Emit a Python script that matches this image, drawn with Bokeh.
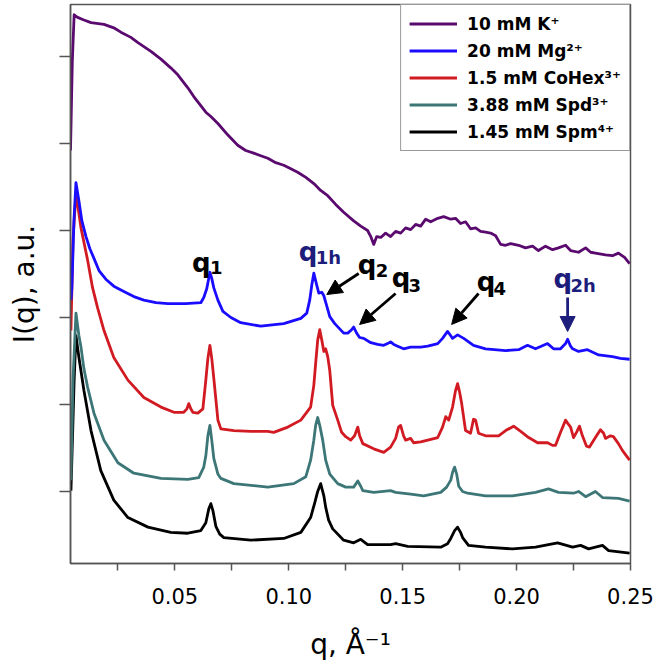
from bokeh.plotting import figure
from bokeh.models import (FixedTicker, CustomJSTickFormatter, PrintfTickFormatter, Legend,
                          LegendItem, Arrow, NormalHead, ColumnDataSource, Range1d)
from bokeh.core.properties import value
from bokeh.embed import file_html
from bokeh.resources import INLINE

# ---------------- data (q in 1/Angstrom, intensity in arbitrary offset units) ----------------
q_k = [0.0042, 0.0050, 0.0058, 0.0073, 0.0101, 0.0132, 0.0189, 0.0232, 0.0263, 0.0307, 0.0338,
       0.0395, 0.0439, 0.0482, 0.0513, 0.0557, 0.0583, 0.0636, 0.0658, 0.0689, 0.0732, 0.0776,
       0.0811, 0.0846, 0.0877, 0.0908, 0.0943, 0.0978, 0.1009, 0.1039, 0.1075, 0.1110, 0.1140,
       0.1171, 0.1206, 0.1241, 0.1285, 0.1316, 0.1346, 0.1360, 0.1373, 0.1386, 0.1404, 0.1425,
       0.1447, 0.1469, 0.1491, 0.1513, 0.1535, 0.1557, 0.1579, 0.1601, 0.1623, 0.1654, 0.1680,
       0.1711, 0.1732, 0.1754, 0.1776, 0.1798, 0.1820, 0.1842, 0.1864, 0.1886, 0.1908, 0.1930,
       0.1952, 0.1974, 0.2009, 0.2039, 0.2070, 0.2096, 0.2127, 0.2158, 0.2184, 0.2215, 0.2237,
       0.2272, 0.2303, 0.2325, 0.2346, 0.2390, 0.2421, 0.2447, 0.2474, 0.2496]
i_k = [4.92, 5.95, 6.48, 6.45, 6.42, 6.39, 6.37, 6.33, 6.28, 6.22, 6.16,
       6.06, 5.97, 5.87, 5.79, 5.64, 5.54, 5.36, 5.31, 5.23, 5.10, 4.98,
       4.92, 4.89, 4.86, 4.83, 4.78, 4.75, 4.71, 4.67, 4.61, 4.54, 4.46,
       4.40, 4.30, 4.21, 4.11, 4.05, 4.00, 3.93, 3.84, 3.93, 3.92, 3.97,
       3.93, 3.99, 3.97, 4.03, 4.01, 4.07, 4.05, 4.13, 4.10, 4.14, 4.16,
       4.13, 4.14, 4.08, 4.10, 4.02, 4.03, 3.99, 3.98, 3.97, 3.94, 3.84,
       3.83, 3.85, 3.83, 3.80, 3.82, 3.77, 3.82, 3.78, 3.80, 3.83, 3.77,
       3.75, 3.80, 3.75, 3.74, 3.72, 3.71, 3.74, 3.69, 3.62]

q_mg = [0.0044, 0.0048, 0.0057, 0.0066, 0.0079, 0.0092, 0.0110, 0.0127, 0.0145, 0.0167, 0.0197,
        0.0232, 0.0276, 0.0320, 0.0364, 0.0417, 0.0469, 0.0548, 0.0614, 0.0627, 0.0640, 0.0654,
        0.0662, 0.0671, 0.0689, 0.0711, 0.0746, 0.0789, 0.0877, 0.0978, 0.1053, 0.1079, 0.1092,
        0.1101, 0.1110, 0.1123, 0.1132, 0.1145, 0.1154, 0.1167, 0.1180, 0.1202, 0.1241, 0.1259,
        0.1276, 0.1285, 0.1298, 0.1311, 0.1329, 0.1360, 0.1390, 0.1417, 0.1434, 0.1447, 0.1461,
        0.1478, 0.1504, 0.1535, 0.1579, 0.1610, 0.1654, 0.1675, 0.1697, 0.1711, 0.1719, 0.1741,
        0.1768, 0.1811, 0.1864, 0.1952, 0.2009, 0.2048, 0.2083, 0.2136, 0.2162, 0.2193, 0.2215,
        0.2224, 0.2237, 0.2246, 0.2272, 0.2311, 0.2360, 0.2421, 0.2456, 0.2496]
i_mg = [3.20, 3.34, 4.11, 4.55, 4.34, 4.11, 3.93, 3.79, 3.68, 3.54, 3.44,
        3.36, 3.30, 3.24, 3.20, 3.17, 3.16, 3.16, 3.17, 3.23, 3.33, 3.52,
        3.45, 3.34, 3.20, 3.07, 3.00, 2.94, 2.90, 2.93, 2.99, 3.05, 3.20,
        3.37, 3.51, 3.37, 3.28, 3.29, 3.25, 3.13, 3.01, 2.93, 2.82, 2.82,
        2.86, 2.89, 2.82, 2.77, 2.76, 2.71, 2.69, 2.68, 2.70, 2.72, 2.69,
        2.67, 2.64, 2.66, 2.66, 2.67, 2.70, 2.76, 2.84, 2.79, 2.76, 2.80,
        2.76, 2.68, 2.64, 2.62, 2.63, 2.68, 2.64, 2.70, 2.64, 2.64, 2.70,
        2.75, 2.67, 2.64, 2.61, 2.63, 2.57, 2.55, 2.53, 2.52]

q_co = [0.0044, 0.0053, 0.0066, 0.0088, 0.0117, 0.0139, 0.0161, 0.0189, 0.0232, 0.0294, 0.0364,
        0.0439, 0.0496, 0.0539, 0.0553, 0.0561, 0.0570, 0.0579, 0.0601, 0.0623, 0.0636, 0.0645,
        0.0654, 0.0662, 0.0671, 0.0689, 0.0702, 0.0759, 0.0833, 0.0908, 0.0934, 0.0996, 0.1053,
        0.1096, 0.1110, 0.1118, 0.1127, 0.1136, 0.1145, 0.1154, 0.1162, 0.1171, 0.1180, 0.1193,
        0.1215, 0.1232, 0.1250, 0.1272, 0.1289, 0.1303, 0.1311, 0.1325, 0.1373, 0.1417, 0.1447,
        0.1469, 0.1482, 0.1491, 0.1504, 0.1513, 0.1535, 0.1548, 0.1579, 0.1610, 0.1654, 0.1675,
        0.1689, 0.1702, 0.1719, 0.1732, 0.1741, 0.1750, 0.1759, 0.1776, 0.1798, 0.1811, 0.1820,
        0.1833, 0.1864, 0.1921, 0.1952, 0.1987, 0.2018, 0.2053, 0.2092, 0.2136, 0.2158, 0.2171,
        0.2193, 0.2215, 0.2228, 0.2237, 0.2250, 0.2263, 0.2276, 0.2289, 0.2307, 0.2320, 0.2346,
        0.2368, 0.2382, 0.2390, 0.2412, 0.2425, 0.2447, 0.2465, 0.2496]
i_co = [2.85, 3.89, 4.43, 4.03, 3.66, 3.34, 3.11, 2.85, 2.54, 2.28, 2.08,
        1.97, 1.91, 1.91, 1.95, 2.01, 1.95, 1.91, 1.90, 1.95, 2.28, 2.53,
        2.68, 2.53, 2.30, 1.82, 1.72, 1.70, 1.69, 1.69, 1.68, 1.74, 1.82,
        1.97, 2.22, 2.47, 2.74, 2.86, 2.74, 2.61, 2.64, 2.55, 2.39, 1.99,
        1.82, 1.68, 1.63, 1.59, 1.64, 1.74, 1.64, 1.55, 1.49, 1.45, 1.51,
        1.61, 1.74, 1.76, 1.64, 1.59, 1.61, 1.56, 1.57, 1.59, 1.62, 1.74,
        1.86, 1.82, 1.97, 2.16, 2.24, 2.14, 2.01, 1.70, 1.67, 1.83, 1.82,
        1.67, 1.64, 1.64, 1.70, 1.75, 1.69, 1.62, 1.56, 1.56, 1.53, 1.53,
        1.68, 1.82, 1.77, 1.74, 1.62, 1.68, 1.75, 1.64, 1.52, 1.51, 1.62,
        1.71, 1.67, 1.61, 1.64, 1.63, 1.55, 1.47, 1.36]

q_spd = [0.0044, 0.0053, 0.0066, 0.0079, 0.0088, 0.0101, 0.0117, 0.0145, 0.0189, 0.0250, 0.0320,
         0.0439, 0.0557, 0.0605, 0.0627, 0.0636, 0.0645, 0.0654, 0.0662, 0.0671, 0.0689, 0.0702,
         0.0759, 0.0908, 0.1022, 0.1075, 0.1096, 0.1110, 0.1118, 0.1127, 0.1136, 0.1149, 0.1162,
         0.1180, 0.1215, 0.1250, 0.1285, 0.1303, 0.1316, 0.1325, 0.1373, 0.1447, 0.1469, 0.1535,
         0.1592, 0.1667, 0.1693, 0.1711, 0.1719, 0.1728, 0.1737, 0.1746, 0.1763, 0.1785, 0.1864,
         0.1982, 0.2083, 0.2140, 0.2184, 0.2250, 0.2272, 0.2303, 0.2346, 0.2377, 0.2447, 0.2496]
i_spd = [1.13, 2.28, 3.05, 2.79, 2.66, 2.41, 2.20, 1.90, 1.59, 1.33, 1.21,
         1.15, 1.14, 1.16, 1.28, 1.41, 1.64, 1.76, 1.59, 1.38, 1.20, 1.15,
         1.09, 1.05, 1.09, 1.17, 1.36, 1.59, 1.76, 1.85, 1.76, 1.59, 1.36,
         1.20, 1.09, 1.05, 1.05, 1.12, 1.06, 1.01, 0.99, 1.01, 0.99, 0.97,
         0.95, 0.99, 1.05, 1.13, 1.22, 1.28, 1.20, 1.06, 1.00, 0.98, 0.95,
         0.95, 0.99, 1.03, 0.99, 0.98, 1.00, 0.94, 1.00, 0.93, 0.92, 0.89]

q_spm = [0.0044, 0.0053, 0.0058, 0.0066, 0.0079, 0.0101, 0.0132, 0.0175, 0.0232, 0.0294, 0.0382,
         0.0482, 0.0557, 0.0614, 0.0636, 0.0649, 0.0658, 0.0667, 0.0680, 0.0697, 0.0715, 0.0833,
         0.0978, 0.1053, 0.1096, 0.1114, 0.1127, 0.1140, 0.1154, 0.1162, 0.1175, 0.1193, 0.1241,
         0.1285, 0.1316, 0.1346, 0.1447, 0.1469, 0.1522, 0.1667, 0.1697, 0.1711, 0.1728, 0.1741,
         0.1754, 0.1763, 0.1789, 0.1864, 0.1982, 0.2083, 0.2140, 0.2180, 0.2246, 0.2281, 0.2316,
         0.2377, 0.2404, 0.2496]
i_spm = [1.01, 1.82, 2.28, 2.79, 2.54, 2.16, 1.70, 1.24, 0.90, 0.70, 0.59,
         0.53, 0.52, 0.55, 0.64, 0.80, 0.86, 0.78, 0.60, 0.51, 0.47, 0.44,
         0.46, 0.53, 0.70, 0.87, 1.00, 1.09, 0.95, 0.82, 0.67, 0.57, 0.44,
         0.41, 0.45, 0.39, 0.39, 0.40, 0.37, 0.36, 0.40, 0.46, 0.55, 0.59,
         0.53, 0.47, 0.38, 0.36, 0.34, 0.36, 0.39, 0.41, 0.36, 0.38, 0.34,
         0.38, 0.32, 0.29]

series_labels = ["10 mM K\u207a", "20 mM Mg\u00b2\u207a", "1.5 mM CoHex\u00b3\u207a",
                 "3.88 mM Spd\u00b3\u207a", "1.45 mM Spm\u2074\u207a"]
x_ticks = [0.05, 0.10, 0.15, 0.20, 0.25]
x_minor = [0.025, 0.075, 0.125, 0.175, 0.225]
y_ticks = [1, 2, 3, 4, 5, 6]

# peak annotations
ann_q = [0.0575, 0.1044, 0.1303, 0.1452, 0.1825, 0.2162]
ann_i = [3.632, 3.753, 3.603, 3.454, 3.408, 3.448]
ann_sub = ["1", "1h", "2", "3", "4", "2h"]
ann_sub_q = [0.0654, 0.1118, 0.1382, 0.1526, 0.1899, 0.2237]
ann_sub_i = [3.575, 3.684, 3.540, 3.368, 3.333, 3.368]
NAVY = "#1d1d7c"
ann_col = ["black", NAVY, "black", "black", "black", NAVY]

arrow_q0 = [0.1307, 0.1469, 0.1833, 0.2224]
arrow_i0 = [3.506, 3.276, 3.276, 3.230]
arrow_q1 = [0.1167, 0.1311, 0.1715, 0.2224]
arrow_i1 = [3.264, 2.920, 2.920, 2.839]
arrow_col = ["black", "black", "black", NAVY]

colors = ["#5a0a6e", "#1a0dff", "#d11a22", "#3d7676", "#000000"]

FONT = "DejaVu Sans"

# ---------------- figure ----------------
p = figure(width=657, height=664, output_backend="svg", toolbar_location=None,
           x_range=Range1d(0.0042, 0.25), y_range=Range1d(0.172, 6.598),
           min_border_left=70, min_border_right=27, min_border_top=4, min_border_bottom=101)
p.xgrid.visible = False
p.ygrid.visible = False
p.outline_line_color = "#555555"
p.outline_line_width = 1.5
p.background_fill_color = "white"
p.border_fill_color = "white"

curves = [(q_k, i_k), (q_mg, i_mg), (q_co, i_co), (q_spd, i_spd), (q_spm, i_spm)]
renderers = [None] * 5
for idx in [4, 3, 2, 1, 0]:
    qq, ii = curves[idx]
    renderers[idx] = p.line(qq, ii, line_color=colors[idx], line_width=2.8, line_join="round")

# axes
xa = p.xaxis[0]
xa.ticker = FixedTicker(ticks=x_ticks, minor_ticks=x_minor)
xa.formatter = PrintfTickFormatter(format="%.2f")
for ax in (xa, p.yaxis[0]):
    ax.axis_line_color = "#555555"
    ax.axis_line_width = 1.5
    ax.major_tick_line_color = "#555555"
    ax.major_tick_line_width = 1.5
    ax.minor_tick_line_color = "#555555"
    ax.minor_tick_line_width = 1.5
    ax.major_tick_in = 0
    ax.minor_tick_in = 0
    ax.axis_label_text_font = FONT
    ax.axis_label_text_font_style = "normal"
    ax.axis_label_text_font_size = "28px"
    ax.axis_label_text_color = "black"
xa.major_tick_out = 7
xa.minor_tick_out = 7
xa.major_label_text_font = FONT
xa.major_label_text_font_size = "21px"
xa.major_label_text_color = "black"
xa.major_label_standoff = 17
xa.axis_label = "q, \u00c5\u207b\u00b9"
xa.axis_label_standoff = 21

ya = p.yaxis[0]
ya.ticker = FixedTicker(ticks=y_ticks, minor_ticks=[])
ya.formatter = CustomJSTickFormatter(code="return ''")
ya.major_tick_out = 11
ya.minor_tick_out = 0
ya.major_label_standoff = 0
ya.axis_label = "I(q), a.u."
ya.axis_label_standoff = 19

# legend
items = [LegendItem(label=series_labels[k], renderers=[renderers[k]]) for k in range(5)]
legend = Legend(items=items, location="top_right", margin=0, padding=8, spacing=6,
                label_height=21, glyph_height=21, glyph_width=48, label_standoff=10,
                label_text_font=FONT, label_text_font_style="bold",
                label_text_font_size="17px", label_text_color="black",
                border_line_color="#333333", border_line_width=1.5,
                background_fill_color="white", background_fill_alpha=1.0)
p.add_layout(legend)

# peak labels
src_main = ColumnDataSource(dict(x=ann_q, y=ann_i, t=["q"] * len(ann_q), c=ann_col))
src_sub = ColumnDataSource(dict(x=ann_sub_q, y=ann_sub_i, t=ann_sub, c=ann_col))
p.text(x="x", y="y", text="t", text_color="c", source=src_main,
       text_font=value(FONT), text_font_style="bold", text_font_size="26px",
       text_align="left", text_baseline="alphabetic")
p.text(x="x", y="y", text="t", text_color="c", source=src_sub,
       text_font=value(FONT), text_font_style="bold", text_font_size="18px",
       text_align="left", text_baseline="alphabetic")

for k in range(len(arrow_q0)):
    c = arrow_col[k]
    p.add_layout(Arrow(end=NormalHead(size=15, fill_color=c, line_color=c),
                       x_start=arrow_q0[k], y_start=arrow_i0[k],
                       x_end=arrow_q1[k], y_end=arrow_i1[k],
                       line_color=c, line_width=2.8))

open("out.html", "w").write(file_html(p, INLINE))
